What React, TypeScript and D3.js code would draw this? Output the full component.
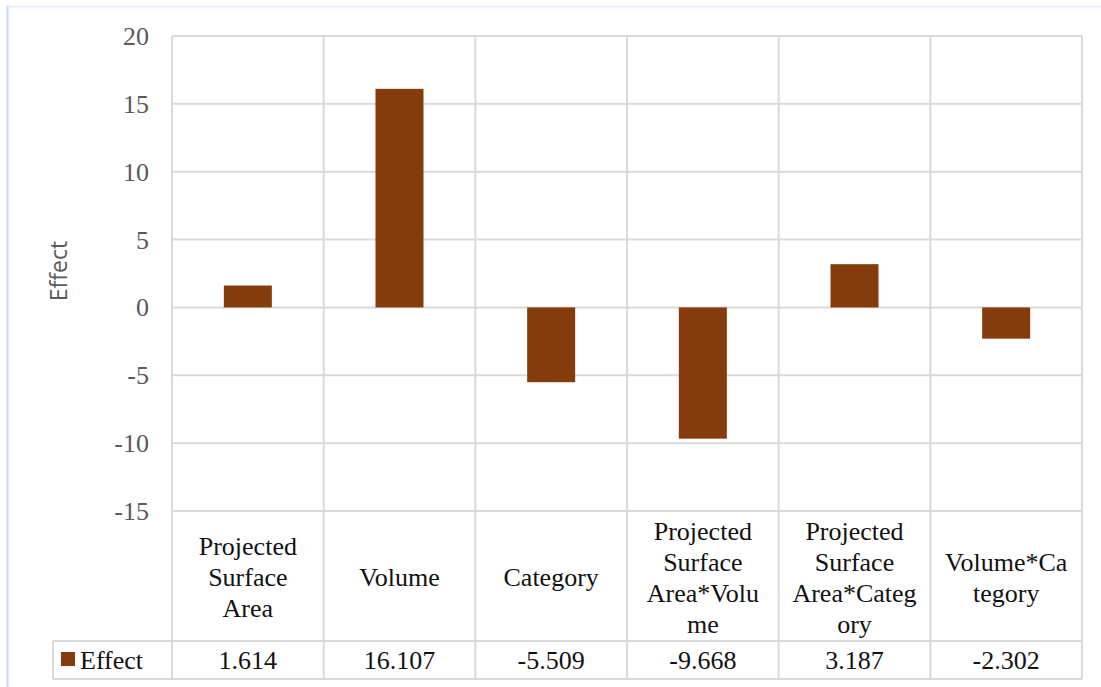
import React from "react";
import * as d3 from "d3";

const categories = [
  "Projected Surface Area",
  "Volume",
  "Category",
  "Projected Surface Area*Volume",
  "Projected Surface Area*Category",
  "Volume*Category",
];
const categoryLines = [
  ["Projected", "Surface", "Area"],
  ["Volume"],
  ["Category"],
  ["Projected", "Surface", "Area*Volu", "me"],
  ["Projected", "Surface", "Area*Categ", "ory"],
  ["Volume*Ca", "tegory"],
];
const effects = [1.614, 16.107, -5.509, -9.668, 3.187, -2.302];
const valueLabels = ["1.614", "16.107", "-5.509", "-9.668", "3.187", "-2.302"];
const yTicks = [20, 15, 10, 5, 0, -5, -10, -15];
const seriesName = "Effect";
const yTitle = "Effect";

const W = 1101;
const H = 687;
const plotLeft = 172;
const plotRight = 1082;
const plotTop = 36;
const plotBottom = 511;
const labelRowBottom = 641;
const valueRowBottom = 679;
const legendLeft = 53;
const barColor = "#843C0C";
const gridColor = "#d9d9d9";

const css = `
.srf { font-family: "Liberation Serif", "Times New Roman", serif !important; }
.sns { font-family: "Open Sans", "Noto Sans", sans-serif !important; }
`;

export default function App() {
  const y = d3.scaleLinear().domain([-15, 20]).range([plotBottom, plotTop]);
  const p = 0.6835;
  const x = d3
    .scaleBand<string>()
    .domain(categories)
    .range([plotLeft, plotRight])
    .paddingInner(p)
    .paddingOuter(p / 2);
  const step = x.step();
  const cell = d3
    .scaleBand<string>()
    .domain(categories)
    .range([plotLeft, plotRight]);

  const labelCenterY = (plotBottom + labelRowBottom) / 2 + 1;
  const lineH = 31;
  const valueY = (labelRowBottom + valueRowBottom) / 2;

  return (
    <div>
      <style>{css}</style>
      <svg
        width={W}
        height={H}
        style={{ position: "absolute", left: 0, top: 0 }}
      >
        <rect x={0} y={0} width={W} height={H} fill="#fff" />
        {/* chart outer frame */}
        <line x1={7} y1={6.5} x2={W} y2={6.5} stroke="#eef0f8" strokeWidth={2} />
        <line x1={7.5} y1={6} x2={7.5} y2={H} stroke="#c9d7ef" strokeWidth={2} />

        {/* horizontal gridlines */}
        {yTicks.map((t) => (
          <line
            key={"g" + t}
            x1={plotLeft}
            x2={plotRight}
            y1={y(t)}
            y2={y(t)}
            stroke={gridColor}
            strokeWidth={2}
          />
        ))}
        {/* vertical category separators through plot and table */}
        {categories.map((c, i) => (
          <line
            key={"v" + i}
            x1={cell(c)!}
            x2={cell(c)!}
            y1={plotTop}
            y2={valueRowBottom}
            stroke={gridColor}
            strokeWidth={2}
          />
        ))}
        <line
          x1={plotRight}
          x2={plotRight}
          y1={plotTop}
          y2={valueRowBottom}
          stroke={gridColor}
          strokeWidth={2}
        />
        {/* table horizontal lines */}
        <line
          x1={legendLeft}
          x2={plotRight}
          y1={labelRowBottom}
          y2={labelRowBottom}
          stroke={gridColor}
          strokeWidth={2}
        />
        <line
          x1={legendLeft}
          x2={plotRight}
          y1={valueRowBottom}
          y2={valueRowBottom}
          stroke={gridColor}
          strokeWidth={2}
        />
        <line
          x1={legendLeft}
          x2={legendLeft}
          y1={labelRowBottom}
          y2={valueRowBottom}
          stroke={gridColor}
          strokeWidth={2}
        />

        {/* bars */}
        {effects.map((v, i) => (
          <rect
            key={"b" + i}
            x={x(categories[i])!}
            width={x.bandwidth()}
            y={y(Math.max(0, v))}
            height={Math.abs(y(v) - y(0))}
            fill={barColor}
          />
        ))}

        {/* y tick labels */}
        {yTicks.map((t) => (
          <text
            key={"t" + t}
            className="srf"
            x={149}
            y={y(t) + 9}
            textAnchor="end"
            fontSize={26}
            fill="#595959"
          >
            {t}
          </text>
        ))}

        {/* y title */}
        <text
          className="sns"
          transform={`translate(67,271) rotate(-90)`}
          textAnchor="middle"
          fontSize={23}
          fill="#595959"
        >
          {yTitle}
        </text>

        {/* category labels */}
        {categoryLines.map((lines, i) => {
          const cx = cell(categories[i])! + step / 2;
          const start = labelCenterY - ((lines.length - 1) * lineH) / 2;
          return lines.map((l, j) => (
            <text
              key={"c" + i + "-" + j}
              className="srf"
              x={cx}
              y={start + j * lineH + 9}
              textAnchor="middle"
              fontSize={26}
              fill="#111"
            >
              {l}
            </text>
          ));
        })}

        {/* value row */}
        {valueLabels.map((s, i) => (
          <text
            key={"val" + i}
            className="srf"
            x={cell(categories[i])! + step / 2}
            y={valueY + 9}
            textAnchor="middle"
            fontSize={26}
            fill="#111"
          >
            {s}
          </text>
        ))}

        {/* legend key */}
        <rect x={61} y={652} width={14} height={14} fill={barColor} />
        <text
          className="srf"
          x={80}
          y={valueY + 9}
          fontSize={26}
          fill="#111"
        >
          {seriesName}
        </text>
      </svg>
    </div>
  );
}
